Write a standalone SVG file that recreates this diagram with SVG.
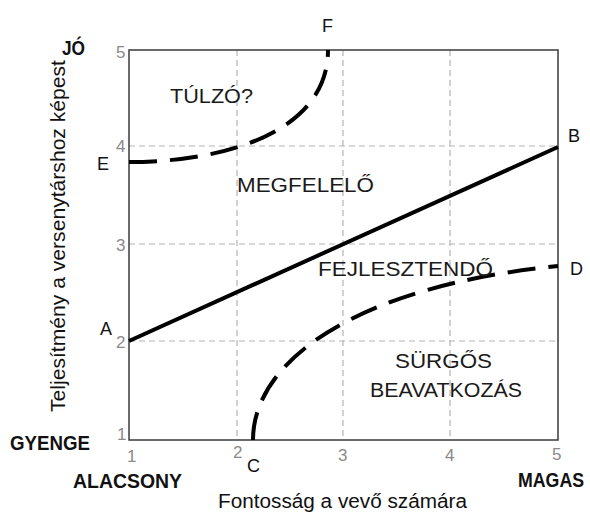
<svg xmlns="http://www.w3.org/2000/svg" width="590" height="514" viewBox="0 0 590 514">
<style>
.grid{stroke:#b4b4b4;stroke-width:1.2;stroke-dasharray:6 4;fill:none}
.frame{stroke:#3a3a3a;stroke-width:1.5;fill:none}
.solid{stroke:#000;stroke-width:4;fill:none}
.dash{stroke:#000;stroke-width:4;fill:none;stroke-dasharray:28 13}
.tick{font-family:"Liberation Sans",Arial,sans-serif;font-size:17px;fill:#8a8a8a}
.pt{font-family:"Liberation Sans",Arial,sans-serif;font-size:18px;fill:#111}
.zone{font-family:"Liberation Sans",Arial,sans-serif;font-size:20px;fill:#1a1a1a}
.bold{font-family:"Liberation Sans",Arial,sans-serif;font-size:21px;font-weight:bold;fill:#111}
.axis{font-family:"Liberation Sans",Arial,sans-serif;font-size:20px;fill:#111}
</style>
<rect width="590" height="514" fill="#fff"/>
<g id="grid">
<line class="grid" x1="237" y1="50" x2="237" y2="440"/>
<line class="grid" x1="343" y1="50" x2="343" y2="440"/>
<line class="grid" x1="450" y1="50" x2="450" y2="440"/>
<line class="grid" x1="129" y1="146" x2="558" y2="146"/>
<line class="grid" x1="129" y1="244" x2="558" y2="244"/>
<line class="grid" x1="129" y1="341" x2="558" y2="341"/>
</g>
<g id="frame"><rect class="frame" x="129" y="50" width="429" height="390"/></g>
<g id="connectors">
<line id="line-AB" class="solid" x1="129" y1="341" x2="558" y2="147"/>
<path id="curve-EF" class="dash" d="M129,162 C225,162 328,132 328,50"/>
<path id="curve-CD" class="dash" d="M253,440 C253,360 358,286 558,266"/>
</g>
<g id="ticks">
<text class="tick" x="116" y="58">5</text>
<text class="tick" x="116" y="152">4</text>
<text class="tick" x="116" y="251">3</text>
<text class="tick" x="116" y="348">2</text>
<text class="tick" x="117" y="440">1</text>
<text class="tick" x="127" y="462">1</text>
<text class="tick" x="233" y="458">2</text>
<text class="tick" x="338" y="461">3</text>
<text class="tick" x="445" y="461">4</text>
<text class="tick" x="552" y="460">5</text>
</g>
<g id="points">
<text id="pA" class="pt" x="100" y="335">A</text>
<text id="pB" class="pt" x="568" y="142">B</text>
<text id="pC" class="pt" x="247" y="472">C</text>
<text id="pD" class="pt" x="570" y="275">D</text>
<text id="pE" class="pt" x="97" y="170">E</text>
<text id="pF" class="pt" x="322" y="32">F</text>
</g>
<g id="zones">
<text id="z-tulzo" class="zone" x="170" y="103" textLength="83" lengthAdjust="spacingAndGlyphs">TÚLZÓ?</text>
<text id="z-megfelelo" class="zone" x="237" y="192" textLength="137" lengthAdjust="spacingAndGlyphs">MEGFELELŐ</text>
<text id="z-fejlesztendo" class="zone" x="318" y="276" textLength="175" lengthAdjust="spacingAndGlyphs">FEJLESZTENDŐ</text>
<text id="z-surgos1" class="zone" x="395" y="368" textLength="97" lengthAdjust="spacingAndGlyphs">SÜRGŐS</text>
<text id="z-surgos2" class="zone" x="370" y="397" textLength="152" lengthAdjust="spacingAndGlyphs">BEAVATKOZÁS</text>
</g>
<g id="axis-labels">
<text class="bold" x="62" y="55" textLength="23" lengthAdjust="spacingAndGlyphs">JÓ</text>
<text class="bold" x="10" y="450" textLength="80" lengthAdjust="spacingAndGlyphs">GYENGE</text>
<text class="bold" x="73" y="488" textLength="109" lengthAdjust="spacingAndGlyphs">ALACSONY</text>
<text class="bold" transform="translate(518,487) scale(0.846,1)" x="0" y="0">MAGAS</text>
<text class="axis" x="218" y="508" textLength="249" lengthAdjust="spacingAndGlyphs">Fontosság a vevő számára</text>
<text class="axis" transform="translate(65,236) rotate(-90)" x="-176" y="0" textLength="352" lengthAdjust="spacingAndGlyphs">Teljesítmény a versenytárshoz képest</text>
</g>
</svg>
